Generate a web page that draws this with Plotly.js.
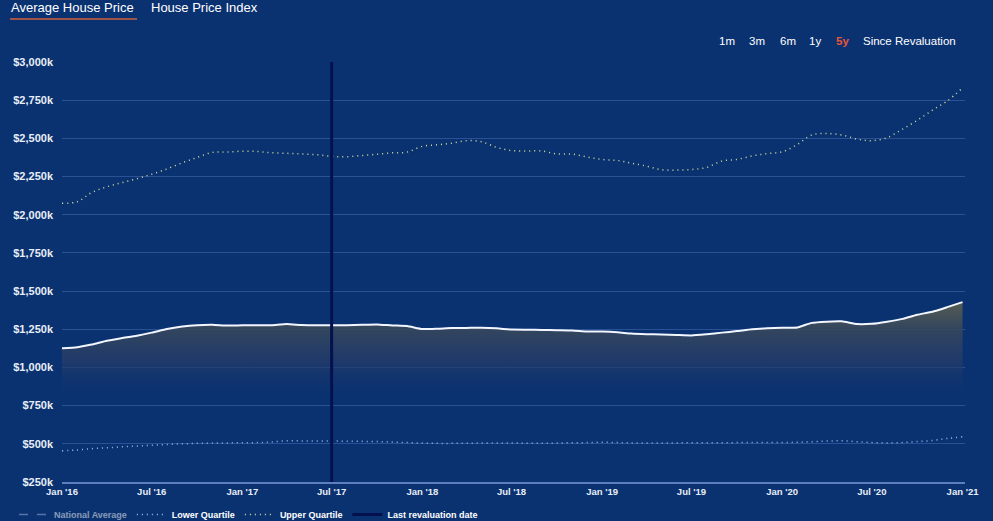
<!DOCTYPE html>
<html><head><meta charset="utf-8">
<script src="https://cdn.plot.ly/plotly-3.0.1.min.js"></script>
<style>html,body{margin:0;padding:0;background:#0b3270;overflow:hidden}#chart{width:993px;height:521px}</style>
</head><body><div id="chart"></div>
<script>
const months = [
'2016-01-01','2016-02-01','2016-03-01','2016-04-01','2016-05-01','2016-06-01','2016-07-01','2016-08-01','2016-09-01','2016-10-01','2016-11-01','2016-12-01',
'2017-01-01','2017-02-01','2017-03-01','2017-04-01','2017-05-01','2017-06-01','2017-07-01','2017-08-01','2017-09-01','2017-10-01','2017-11-01','2017-12-01',
'2018-01-01','2018-02-01','2018-03-01','2018-04-01','2018-05-01','2018-06-01','2018-07-01','2018-08-01','2018-09-01','2018-10-01','2018-11-01','2018-12-01',
'2019-01-01','2019-02-01','2019-03-01','2019-04-01','2019-05-01','2019-06-01','2019-07-01','2019-08-01','2019-09-01','2019-10-01','2019-11-01','2019-12-01',
'2020-01-01','2020-02-01','2020-03-01','2020-04-01','2020-05-01','2020-06-01','2020-07-01','2020-08-01','2020-09-01','2020-10-01','2020-11-01','2020-12-01',
'2021-01-01'];
const averagePrice = [1125,1133,1150,1175,1192,1208,1228,1252,1268,1277,
1280,1274,1276,1276,1277,1284,1278,1276,1276,1277,
1280,1282,1275,1271,1252,1254,1258,1259,1260,1256,
1248,1247,1246,1244,1242,1236,1235,1230,1222,1218,
1216,1213,1210,1218,1228,1238,1250,1256,1260,1262,
1292,1300,1302,1284,1286,1300,1318,1345,1365,1395,1428];
const upperQuartile = [2075,2085,2145,2183,2210,2236,2265,2300,2340,2375,
2408,2410,2416,2414,2406,2402,2398,2393,2382,2380,
2388,2396,2405,2410,2448,2458,2468,2485,2478,2441,
2420,2418,2417,2398,2397,2378,2362,2355,2338,2318,
2295,2292,2296,2310,2352,2362,2385,2400,2412,2460,
2522,2532,2522,2495,2485,2505,2560,2618,2685,2745,2830];
const lowerQuartile = [455,460,468,474,480,485,490,496,500,503,
505,506,507,508,512,520,519,518,518,517,
516,515,512,508,505,503,503,504,505,505,
505,504,503,505,507,508,510,508,506,505,
505,506,507,507,507,508,508,508,509,510,
514,518,520,514,508,506,508,515,522,535,546];
// National average series is switched off in the reference; no values are visible.
const nationalAverageDates = ['2016-01-01'];
const nationalAverage = [null];
const revaluationDate = '2017-07-01';
const tickDates = ['2016-01-01','2016-07-01','2017-01-01','2017-07-01','2018-01-01','2018-07-01','2019-01-01','2019-07-01','2020-01-01','2020-07-01','2021-01-01'];
const tickLabels = ["Jan '16","Jul '16","Jan '17","Jul '17","Jan '18","Jul '18","Jan '19","Jul '19","Jan '20","Jul '20","Jan '21"];
const yTickVals = [250,500,750,1000,1250,1500,1750,2000,2250,2500,2750,3000];
const yTickLabels = ['$250k','$500k','$750k','$1,000k','$1,250k','$1,500k','$1,750k','$2,000k','$2,250k','$2,500k','$2,750k','$3,000k'];
const yMin = 250, yMax = 3000;

const FONT = 'Liberation Sans, Arial, sans-serif';

const traces = [
  {x: months, y: averagePrice, type:'scatter', mode:'lines', name:'Average', showlegend:false,
   line:{color:'#f2f6ff', width:2, shape:'spline', smoothing:0.5},
   fill:'tozeroy',
   fillgradient:{type:'vertical', start:yMin, stop:1430,
     colorscale:[[0,'rgba(11,50,112,0)'],[0.47,'rgba(11,50,112,0)'],[0.66,'rgba(36,60,105,0.75)'],[0.85,'rgba(56,72,92,0.9)'],[1,'rgba(90,95,80,0.95)']]}},
  {x: nationalAverageDates, y: nationalAverage, type:'scatter', mode:'lines', name:'National Average',
   visible:'legendonly', line:{color:'#9fb4d8', width:1.5, dash:'dash'}},
  {x: months, y: lowerQuartile, type:'scatter', mode:'lines', name:'Lower Quartile',
   line:{color:'#8ec3ec', width:1.5, dash:'1px,4px', shape:'spline'}},
  {x: months, y: upperQuartile, type:'scatter', mode:'lines', name:'Upper Quartile',
   line:{color:'#cfe09a', width:1.5, dash:'1px,4px', shape:'spline'}},
  {x: [revaluationDate, revaluationDate], y: [yMin, yMax], type:'scatter', mode:'lines', name:'Last revaluation date',
   line:{color:'#05104f', width:3}}
];

function px2x(p){ return (p-62)/903; }
function px2y(p){ return (482-p)/420; }

const ann = [];
function addText(text, xl, yc, size, color, weight){
  ann.push({text:text, xref:'paper', yref:'paper', x:px2x(xl), y:px2y(yc), xanchor:'left', yanchor:'middle',
    showarrow:false, font:{family:FONT, size:size, color:color, weight:weight||'normal'}});
}
addText('Average House Price', 9, 7, 13, '#ffffff');
addText('House Price Index', 149, 7, 13, '#ffffff');
addText('1m', 717, 41, 11.5, '#ffffff');
addText('3m', 747, 41, 11.5, '#ffffff');
addText('6m', 778, 41, 11.5, '#ffffff');
addText('1y', 807, 41, 11.5, '#ffffff');
addText('5y', 834, 41, 11.5, '#e8553a', 'bold');
addText('Since Revaluation', 861, 41, 11.5, '#ffffff');

const layout = {
  width: 993, height: 521,
  paper_bgcolor:'#0b3270', plot_bgcolor:'#0b3270',
  margin:{l:62, r:28, t:62, b:39, autoexpand:false},
  font:{family:FONT, color:'#ffffff'},
  xaxis:{type:'date', range:['2016-01-01','2021-01-06'], showgrid:false, zeroline:false,
    showline:true, linecolor:'#5d7fbe', linewidth:2,
    tickvals:tickDates, ticktext:tickLabels, ticks:'',
    tickfont:{family:FONT, size:9.5, color:'#e8eef8', weight:'bold'}, fixedrange:true},
  yaxis:{range:[yMin, yMax], tickvals:yTickVals, ticktext:yTickLabels, showgrid:true,
    gridcolor:'#2a5194', gridwidth:1, zeroline:false, showline:false, ticks:'', ticklabelstandoff:8,
    tickfont:{family:FONT, size:11, color:'#e8eef8', weight:'bold'}, fixedrange:true},
  showlegend:true,
  legend:{orientation:'h', x:px2x(14), xanchor:'left', y:px2y(500), yanchor:'top',
    bgcolor:'rgba(0,0,0,0)', font:{family:FONT, size:9, color:'#ffffff', weight:'bold'},
    itemwidth:30, traceorder:'normal'},
  shapes:[{type:'line', xref:'paper', yref:'paper', x0:px2x(10), x1:px2x(137), y0:px2y(19), y1:px2y(19),
    line:{color:'#d0603c', width:1.5}}],
  annotations: ann
};

Plotly.newPlot('chart', traces, layout, {displayModeBar:false, staticPlot:true});
</script>
</body></html>
